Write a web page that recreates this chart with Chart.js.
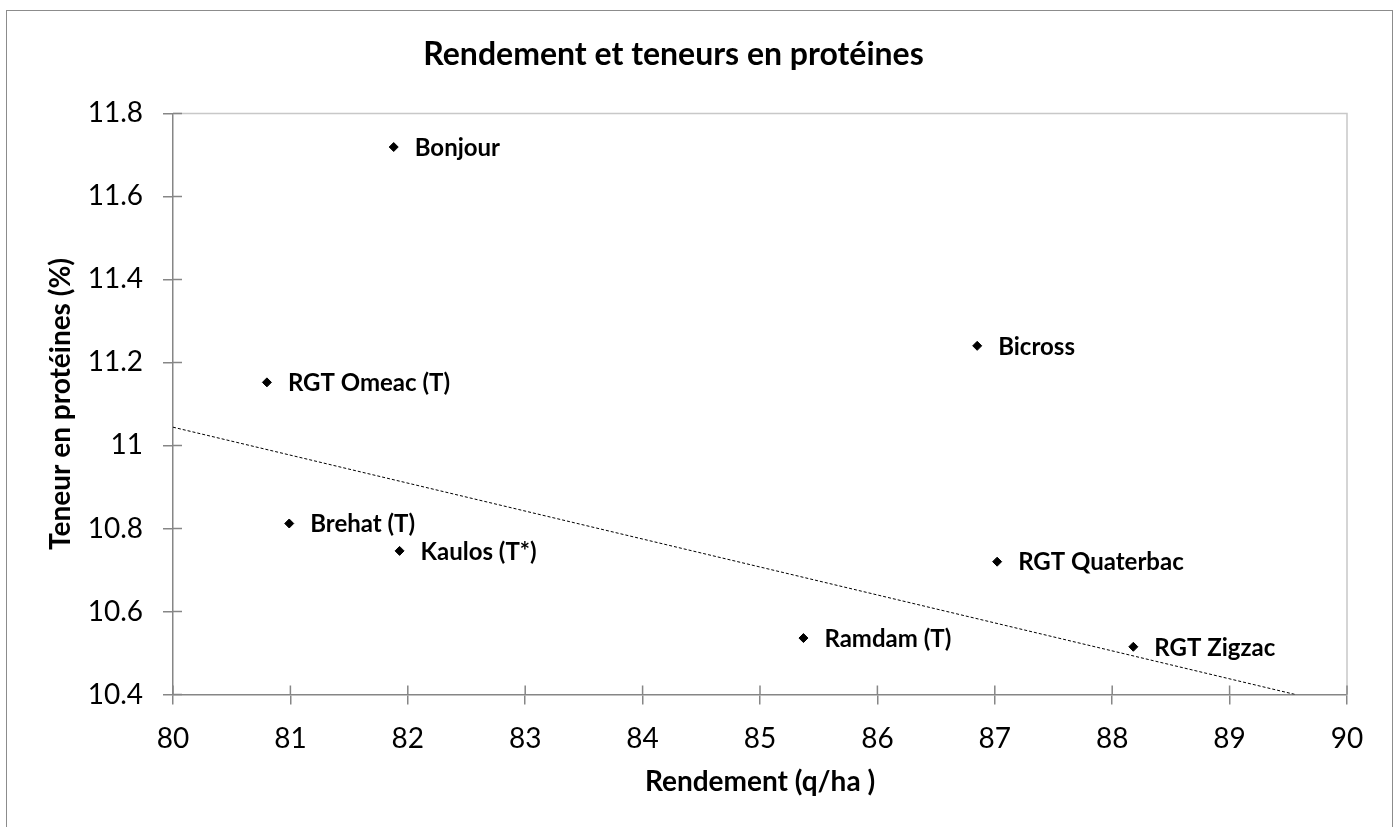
<!DOCTYPE html>
<html>
<head>
<meta charset="utf-8">
<script src="https://cdn.jsdelivr.net/npm/chart.js@4.4.1/dist/chart.umd.min.js"></script>
<style>
  body { margin: 0; background: #fff; }
  #wrap { width: 1398px; height: 827px; }
</style>
</head>
<body>
<div id="wrap"><canvas id="chart" width="1398" height="827"></canvas></div>
<script>
// data
const varietes = ['Bonjour', 'Bicross', 'RGT Omeac (T)', 'Brehat (T)', 'Kaulos (T*)', 'RGT Quaterbac', 'Ramdam (T)', 'RGT Zigzac'];
const rendement = [81.88, 86.85, 80.80, 80.99, 81.93, 87.02, 85.37, 88.18];
const proteines = [11.719, 11.240, 11.152, 10.812, 10.746, 10.720, 10.536, 10.515];
// trend line end points
const trendX = [80, 89.56];
const trendY = [11.044, 10.4];
const xRange = [80, 90];
const yRange = [10.4, 11.8];

const FONT = 'Lato, "Open Sans", sans-serif';
const AXIS = '#868686';

// outer frame, plot border, crossing ticks
const framePlugin = {
  id: 'frame',
  beforeDraw(chart) {
    const ctx = chart.ctx;
    ctx.save();
    ctx.fillStyle = '#fff';
    ctx.fillRect(0, 0, chart.width, chart.height);
    ctx.strokeStyle = '#8c8c8c';
    ctx.lineWidth = 1;
    ctx.strokeRect(6.5, 10.5, 1386, 830);
    ctx.restore();
  },
  beforeDatasetsDraw(chart) {
    const ctx = chart.ctx;
    const a = chart.chartArea;
    ctx.save();
    ctx.strokeStyle = '#c8c8c8';
    ctx.lineWidth = 1.5;
    ctx.beginPath();
    ctx.moveTo(a.left, a.top);
    ctx.lineTo(a.right, a.top);
    ctx.lineTo(a.right, a.bottom);
    ctx.stroke();
    // inner half of the ticks
    ctx.strokeStyle = AXIS;
    ctx.lineWidth = 1.5;
    const xs = chart.scales.x, ys = chart.scales.y;
    ctx.beginPath();
    xs.ticks.forEach(t => {
      const px = xs.getPixelForValue(t.value);
      ctx.moveTo(px, a.bottom);
      ctx.lineTo(px, a.bottom - 9);
    });
    ys.ticks.forEach(t => {
      const py = ys.getPixelForValue(t.value);
      ctx.moveTo(a.left, py);
      ctx.lineTo(a.left + 9, py);
    });
    ctx.stroke();
    ctx.restore();
  }
};

// variety names next to the points
const labelPlugin = {
  id: 'pointLabels',
  afterDatasetsDraw(chart) {
    const ctx = chart.ctx;
    const meta = chart.getDatasetMeta(1);
    ctx.save();
    ctx.font = 'bold 24px ' + FONT;
    ctx.fillStyle = '#000';
    ctx.textAlign = 'left';
    ctx.textBaseline = 'middle';
    meta.data.forEach((pt, i) => {
      ctx.fillText(varietes[i], pt.x + 21, pt.y + 1);
    });
    ctx.restore();
  }
};

const points = rendement.map((x, i) => ({ x: x, y: proteines[i] }));
const trend = trendX.map((x, i) => ({ x: x, y: trendY[i] }));

new Chart(document.getElementById('chart'), {
  type: 'scatter',
  data: {
    datasets: [
      {
        type: 'line',
        data: trend,
        borderColor: '#000',
        borderWidth: 1,
        borderDash: [3, 2],
        pointRadius: 0,
        fill: false
      },
      {
        data: points,
        pointStyle: 'rectRot',
        pointRadius: 4.5,
        backgroundColor: '#000',
        borderColor: '#000'
      }
    ]
  },
  options: {
    responsive: false,
    animation: false,
    layout: { padding: { left: 0, right: 51, top: 0, bottom: 28 } },
    plugins: {
      legend: { display: false },
      tooltip: { enabled: false },
      title: {
        display: true,
        text: 'Rendement et teneurs en protéines',
        color: '#000',
        font: { family: FONT, size: 32, weight: 'bold' },
        padding: { top: 35, bottom: 40 }
      }
    },
    scales: {
      x: {
        type: 'linear',
        min: xRange[0],
        max: xRange[1],
        ticks: {
          stepSize: 1,
          color: '#000',
          font: { family: FONT, size: 28 },
          padding: 18
        },
        grid: { drawOnChartArea: false, drawTicks: true, tickLength: 10, color: AXIS, lineWidth: 1.5 },
        border: { display: true, color: AXIS, width: 1.5 },
        title: {
          display: true,
          text: 'Rendement (q/ha )',
          color: '#000',
          font: { family: FONT, size: 28, weight: 'bold' },
          padding: 0
        },
        afterFit(scale) { scale.height = 104.5; }
      },
      y: {
        type: 'linear',
        min: yRange[0],
        max: yRange[1],
        ticks: {
          stepSize: 0.2,
          color: '#000',
          font: { family: FONT, size: 28 },
          padding: 20,
          callback: v => String(Math.round(v * 10) / 10)
        },
        grid: { drawOnChartArea: false, drawTicks: true, tickLength: 10, color: AXIS, lineWidth: 1.5 },
        border: { display: true, color: AXIS, width: 1.5 },
        title: {
          display: true,
          text: 'Teneur en protéines (%)',
          color: '#000',
          font: { family: FONT, size: 28, weight: 'bold' },
          padding: { top: 44, bottom: 0 }
        },
        afterFit(scale) { scale.width = 173; }
      }
    }
  },
  plugins: [framePlugin, labelPlugin]
});
</script>
</body>
</html>
